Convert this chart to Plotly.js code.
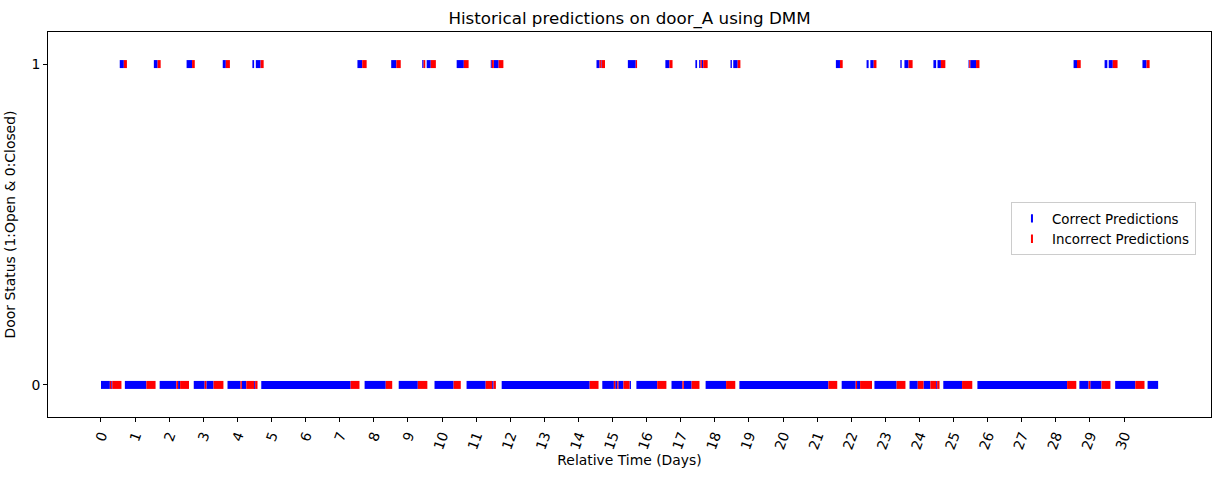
<!DOCTYPE html>
<html>
<head>
<meta charset="utf-8">
<script src="https://cdn.plot.ly/plotly-3.0.1.min.js"></script>
<style>
  html, body { margin: 0; padding: 0; background: #fff; }
  #chart { width: 1224px; height: 478px; }
</style>
</head>
<body>
<div id="chart"></div>
<script>
// intervals [start, end] in days
// y = 0 (closed)
var closedCorrect = [
  [0.00,0.26],[0.30,0.33],[0.70,1.33],[1.72,2.21],[2.26,2.32],[2.72,3.04],[3.09,3.30],
  [3.71,4.09],[4.13,4.26],[4.49,4.52],[4.70,7.32],[7.73,8.35],[8.73,9.29],[9.78,10.34],
  [10.72,11.28],[11.47,11.51],[11.75,14.33],[14.70,15.04],[15.08,15.14],[15.17,15.32],
  [15.50,15.54],[15.70,16.31],[16.73,17.05],[17.09,17.32],[17.73,18.33],[18.72,21.33],
  [21.72,22.13],[22.17,22.26],[22.68,23.33],[23.71,23.95],[24.12,24.32],[24.49,24.52],
  [24.70,25.25],[25.70,28.33],[28.69,28.96],[29.01,29.34],[29.74,30.33],[30.69,31.00]
];
var closedIncorrect = [
  [0.26,0.30],[0.33,0.60],[1.33,1.60],[2.21,2.26],[2.32,2.58],[3.04,3.09],[3.30,3.59],
  [4.09,4.13],[4.26,4.49],[4.52,4.59],[7.32,7.58],[8.35,8.54],[9.29,9.57],[10.34,10.55],
  [11.28,11.47],[11.51,11.58],[14.33,14.59],[15.04,15.08],[15.14,15.17],[15.32,15.50],
  [16.31,16.58],[17.05,17.09],[17.32,17.55],[18.33,18.60],[21.33,21.59],[22.13,22.17],
  [22.26,22.61],[23.33,23.59],[23.95,24.12],[24.32,24.49],[24.52,24.59],[25.25,25.55],
  [28.33,28.60],[28.96,29.01],[29.34,29.60],[30.33,30.60]
];
// y = 1 (open)
var openCorrect = [
  [0.55,0.67],[1.55,1.66],[2.51,2.67],[3.57,3.66],[4.44,4.49],[4.54,4.68],[7.52,7.66],
  [8.51,8.66],[9.42,9.46],[9.55,9.67],[10.43,10.64],[11.43,11.46],[11.52,11.66],
  [14.53,14.62],[14.66,14.68],[15.45,15.68],[16.55,16.67],[17.43,17.48],[17.54,17.58],
  [17.62,17.66],[18.46,18.50],[18.54,18.67],[21.55,21.67],[22.45,22.51],[22.56,22.66],
  [23.44,23.48],[23.56,23.68],[24.41,24.49],[24.53,24.63],[25.44,25.46],[25.49,25.66],
  [28.52,28.62],[29.43,29.51],[29.55,29.67],[30.54,30.66]
];
var openIncorrect = [
  [0.67,0.76],[1.66,1.75],[2.67,2.75],[3.66,3.78],[4.68,4.77],[7.66,7.79],[8.66,8.79],
  [9.46,9.51],[9.67,9.82],[10.64,10.78],[11.46,11.52],[11.66,11.80],[14.62,14.66],
  [14.68,14.78],[15.68,15.72],[16.67,16.76],[17.58,17.62],[17.66,17.79],[18.67,18.75],
  [21.67,21.75],[22.66,22.74],[23.68,23.80],[24.63,24.76],[25.46,25.49],[25.66,25.76],
  [28.62,28.73],[29.67,29.81],[30.66,30.75]
];
var dayTicks = [0,1,2,3,4,5,6,7,8,9,10,11,12,13,14,15,16,17,18,19,20,21,22,23,24,25,26,27,28,29,30];

var BLUE = '#0000ff', RED = '#ff0000';
var FONT = 'DejaVu Sans, sans-serif';

// turn the intervals into one broken line per row
function segTrace(segs, level, color) {
  var xs = [], ys = [];
  for (var i = 0; i < segs.length; i++) {
    xs.push(segs[i][0], segs[i][1], null);
    ys.push(level, level, null);
  }
  return {
    type: 'scatter', mode: 'lines', x: xs, y: ys,
    line: { color: color, width: 8 },
    showlegend: false, hoverinfo: 'x+y'
  };
}

function legendTrace(name, color) {
  return {
    type: 'scatter', mode: 'markers', x: [null], y: [null], name: name,
    marker: { symbol: 'line-ns', size: 6, line: { color: color, width: 2 } }
  };
}

var data = [
  segTrace(closedCorrect, 0, BLUE),
  segTrace(openCorrect, 1, BLUE),
  segTrace(closedIncorrect, 0, RED),
  segTrace(openIncorrect, 1, RED),
  legendTrace('Correct Predictions', BLUE),
  legendTrace('Incorrect Predictions', RED)
];

var layout = {
  width: 1224, height: 478,
  margin: { l: 48, r: 13, t: 32, b: 61 },
  paper_bgcolor: '#fff', plot_bgcolor: '#fff',
  font: { family: FONT, size: 13.9, color: '#000' },
  title: {
    text: 'Historical predictions on door_A using DMM',
    font: { family: FONT, size: 16.7, color: '#000' },
    x: 0.5, xref: 'paper', xanchor: 'center',
    y: 1 - 18 / 478, yref: 'container', yanchor: 'middle'
  },
  xaxis: {
    range: [-1.554, 32.55],
    tickvals: dayTicks, ticktext: dayTicks.map(String),
    tickangle: -70,
    ticks: 'outside', ticklen: 4, tickcolor: '#000',
    tickfont: { family: FONT, size: 13.9 },
    showgrid: false, zeroline: false,
    showline: true, mirror: true, linecolor: '#000', linewidth: 1,
    title: { text: 'Relative Time (Days)', font: { family: FONT, size: 13.9 }, standoff: 3 }
  },
  yaxis: {
    range: [-0.1, 1.1],
    tickvals: [0, 1], ticktext: ['0', '1'],
    ticks: 'outside', ticklen: 4, tickcolor: '#000',
    tickfont: { family: FONT, size: 13.9 },
    showgrid: false, zeroline: false,
    showline: true, mirror: true, linecolor: '#000', linewidth: 1,
    title: { text: 'Door Status (1:Open & 0:Closed)', font: { family: FONT, size: 13.9 }, standoff: 12 }
  },
  legend: {
    x: 0.828, y: 0.558, xanchor: 'left', yanchor: 'top',
    bgcolor: '#fff', bordercolor: '#cccccc', borderwidth: 1,
    font: { family: FONT, size: 13.4 },
    tracegroupgap: 0
  }
};

Plotly.newPlot('chart', data, layout, { displayModeBar: false, staticPlot: true });
</script>
</body>
</html>
